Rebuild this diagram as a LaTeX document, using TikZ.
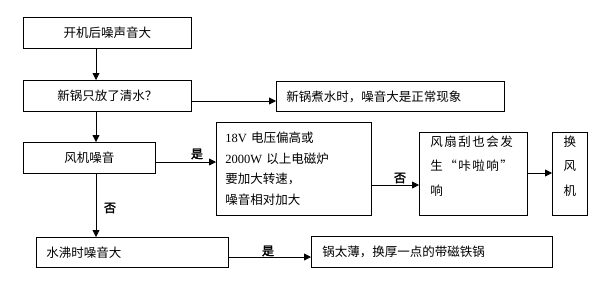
\documentclass[tikz,border=0pt]{standalone}
\usepackage{fontspec}
\setmainfont{Noto Sans CJK SC}
\newfontfamily\serifdig{Liberation Serif}
\newfontfamily\cjkbold[FakeBold=2.5]{Noto Sans CJK SC}
\newfontfamily\cjkwide[LetterSpace=12]{Noto Sans CJK SC}
\usetikzlibrary{arrows.meta}
\begin{document}
\begin{tikzpicture}[x=1pt,y=-1pt,
  box/.style={draw,line width=0.8pt,anchor=north west,inner ysep=0pt,font=\fontsize{12.5}{15}\selectfont},
  cbox/.style={box,inner xsep=0pt,align=center},
  lbox/.style={box,inner xsep=10pt,align=left},
  arr/.style={line width=0.8pt,-{Triangle[length=7pt,width=7pt]}},
  lab/.style={font=\cjkbold\fontsize{12}{14}\selectfont,inner sep=0pt}]
\useasboundingbox (0,0) rectangle (612,285);
\node[cbox,text width=168pt,minimum height=31pt] (b1) at (23,17) {开机后噪声音大};
\node[cbox,text width=168pt,minimum height=31pt] (b2) at (23,80) {新锅只放了清水？};
\node[lbox,text width=208pt,minimum height=30pt] (b3) at (276,81) {新锅煮水时，噪音大是正常现象};
\node[cbox,text width=132pt,minimum height=31pt] (b4) at (23,142) {风机噪音};
\node[lbox,inner xsep=9pt,text width=137pt,minimum height=93pt,font=\fontsize{12.5}{20.5}\selectfont] (b5) at (216,122)
  {{\serifdig 18V} 电压偏高或\\{\serifdig 2000W} 以上电磁炉\\要加大转速，\\噪音相对加大};
\node[lbox,inner xsep=11pt,text width=86pt,minimum height=83pt,font=\cjkwide\fontsize{12.5}{24.5}\selectfont] (b6) at (419,132)
  {风扇刮也会发\\生“咔啦响”\\响\\[-8pt]\mbox{}};
\node[cbox,text width=35pt,minimum height=83pt,font=\fontsize{12.5}{24.5}\selectfont] (b7) at (552,132) {换\\风\\机\\[-8pt]\mbox{}};
\node[lbox,text width=172pt,minimum height=30pt] (b8) at (36,237) {水沸时噪音大};
\node[lbox,inner xsep=11pt,text width=219pt,minimum height=31pt] (b9) at (311,236) {锅太薄，换厚一点的带磁铁锅};
\coordinate (vx) at (96,0);
\coordinate (h1) at (0,101);
\coordinate (h2) at (0,162);
\coordinate (h3) at (0,185);
\coordinate (h4) at (0,173);
\coordinate (h5) at (0,257);
\draw[arr] (b1.south -| vx) -- (b2.north -| vx);
\draw[arr] (b2.south -| vx) -- (b4.north -| vx);
\draw[arr] (b4.south -| vx) -- (b8.north -| vx);
\draw[arr] (b2.east |- h1) -- (b3.west |- h1);
\draw[arr] (b4.east |- h2) -- (b5.west |- h2);
\draw[arr] (b5.east |- h3) -- (b6.west |- h3);
\draw[arr] (b6.east |- h4) -- (b7.west |- h4);
\draw[arr] (b8.east |- h5) -- (b9.west |- h5);
\node[lab] (l1) at (197,154) {是};
\node[lab] (l2) at (400,178) {否};
\node[lab] (l3) at (110,208) {否};
\node[lab] (l4) at (268,251) {是};
\end{tikzpicture}
\end{document}
